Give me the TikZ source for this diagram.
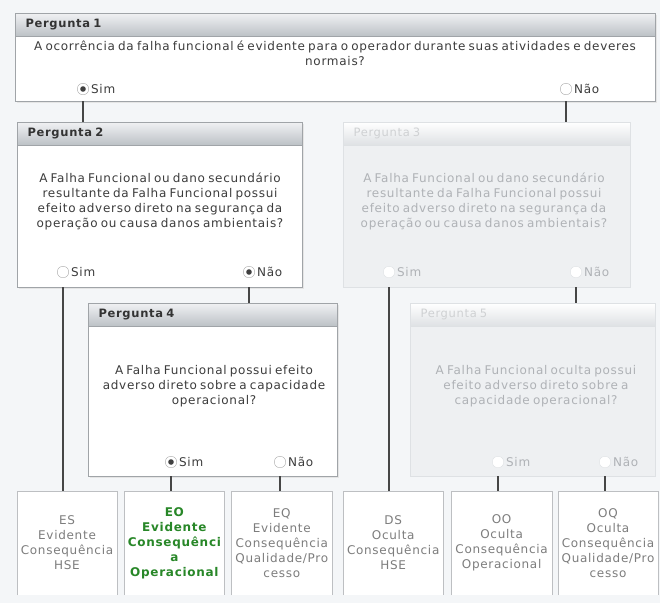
\documentclass[tikz,border=0pt]{standalone}
\usepackage{fontspec}
\setmainfont{DejaVu Sans}[LetterSpace=6, WordSpace=0.7]
\usetikzlibrary{positioning}
\definecolor{bgcol}{RGB}{244,246,248}
\definecolor{boxline}{RGB}{160,164,168}
\definecolor{headtop}{RGB}{240,241,243}
\definecolor{headbot}{RGB}{188,193,198}
\definecolor{txt}{RGB}{60,60,60}
\definecolor{faded}{RGB}{238,240,242}
\definecolor{fadeline}{RGB}{222,225,228}
\definecolor{fadetxt}{RGB}{175,178,182}
\definecolor{wire}{RGB}{70,70,70}
\definecolor{outtxt}{RGB}{125,125,125}
\definecolor{outgreen}{RGB}{40,135,40}

\begin{document}
\begin{tikzpicture}[x=1pt, y=-1pt, every node/.style={font=\fontsize{12}{15}\selectfont, text=txt},
	qbox/.style={draw=boxline, fill=white, anchor=north west, inner sep=0, preaction={fill=black!10, transform canvas={shift={(1.5pt,-1.5pt)}}}},
	fbox/.style={draw=fadeline, fill=faded, anchor=north west, inner sep=0},
	qhead/.style={draw=boxline, top color=headtop, bottom color=headbot, anchor=north west, minimum height=23, inner sep=0},
	fhead/.style={draw=fadeline, top color=white, bottom color=fadeline, anchor=north west, minimum height=23, inner sep=0},
	qtitle/.style={font=\fontsize{11.5}{12}\selectfont\bfseries, text=black!80},
	ftitle/.style={qtitle, font=\fontsize{11.5}{12}\selectfont, text=fadetxt!60!white},
	qtext/.style={align=center},
	ftext/.style={align=center, text=fadetxt},
	radio/.style={circle, draw=gray!65, fill=white, minimum size=11.5, inner sep=0},
	picked/.style={radio, path picture={\fill[black!75] (path picture bounding box.center) circle (2.8pt);}},
	fradio/.style={radio, draw=fadeline},
	rlabel/.style={inner sep=1pt},
	flabel/.style={inner sep=1pt, text=fadetxt},
	wire/.style={draw=wire, line width=1.1pt},
	outbox/.style={fill=white, minimum width=100, minimum height=104, align=center, inner sep=0, text=outtxt},
	outedge/.style={draw=boxline!70}]
	\fill[bgcol] (0,0) rectangle (660,603);
	\node[qbox, minimum width=640, minimum height=88] (p1) at (15,13) {};
	\node[qhead, minimum width=640] (p1h) at (p1.north west) {};
	\node[qtitle, right=7pt of p1h.west] {Pergunta 1};
	\node[qtext] (p1q) at (335,53) {A ocorrência da falha funcional é evidente para o operador durante suas atividades e deveres\\normais?};
	\node[picked] (p1sim) at (83,89) {};
	\node[rlabel, right=1pt of p1sim] {Sim};
	\node[radio] (p1nao) at (566,89) {};
	\node[rlabel, right=1pt of p1nao] {Não};

	\node[qbox, minimum width=285, minimum height=165] (p2) at (17,122) {};
	\node[qhead, minimum width=285] (p2h) at (p2.north west) {};
	\node[qtitle, right=7pt of p2h.west] {Pergunta 2};
	\node[qtext] (p2q) at (160,201) {A Falha Funcional ou dano secundário\\resultante da Falha Funcional possui\\efeito adverso direto na segurança da\\operação ou causa danos ambientais?};
	\node[radio] (p2sim) at (63,272) {};
	\node[rlabel, right=1pt of p2sim] {Sim};
	\node[picked] (p2nao) at (249,272) {};
	\node[rlabel, right=1pt of p2nao] {Não};

	\node[fbox, minimum width=287, minimum height=165] (p3) at (343,122) {};
	\node[fhead, minimum width=287] (p3h) at (p3.north west) {};
	\node[ftitle, right=7pt of p3h.west] {Pergunta 3};
	\node[ftext] (p3q) at (484,201) {A Falha Funcional ou dano secundário\\resultante da Falha Funcional possui\\efeito adverso direto na segurança da\\operação ou causa danos ambientais?};
	\node[fradio] (p3sim) at (389,272) {};
	\node[flabel, right=1pt of p3sim] {Sim};
	\node[fradio] (p3nao) at (576,272) {};
	\node[flabel, right=1pt of p3nao] {Não};

	\node[qbox, minimum width=249, minimum height=173] (p4) at (88,303) {};
	\node[qhead, minimum width=249] (p4h) at (p4.north west) {};
	\node[qtitle, right=7pt of p4h.west] {Pergunta 4};
	\node[qtext] (p4q) at (214,386) {A Falha Funcional possui efeito\\adverso direto sobre a capacidade\\operacional?};
	\node[picked] (p4sim) at (171,462) {};
	\node[rlabel, right=1pt of p4sim] {Sim};
	\node[radio] (p4nao) at (280,462) {};
	\node[rlabel, right=1pt of p4nao] {Não};

	\node[fbox, minimum width=245, minimum height=173] (p5) at (410,303) {};
	\node[fhead, minimum width=245] (p5h) at (p5.north west) {};
	\node[ftitle, right=7pt of p5h.west] {Pergunta 5};
	\node[ftext] (p5q) at (536,386) {A Falha Funcional oculta possui\\efeito adverso direto sobre a\\capacidade operacional?};
	\node[fradio] (p5sim) at (498,462) {};
	\node[flabel, right=1pt of p5sim] {Sim};
	\node[fradio] (p5nao) at (605,462) {};
	\node[flabel, right=1pt of p5nao] {Não};

	\node[outbox] (es) at (67,543) {ES\\Evidente\\Consequência\\HSE};
	\node[outbox, right=7pt of es, text=outgreen, font=\fontsize{12}{15}\selectfont\bfseries] (eo) {EO\\Evidente\\Consequênci\\a\\Operacional};
	\node[outbox, right=7pt of eo] (eq) {EQ\\Evidente\\Consequência\\Qualidade/Pro\\cesso};
	\node[outbox, right=11pt of eq] (ds) {DS\\Oculta\\Consequência\\HSE};
	\node[outbox, right=8pt of ds] (oo) {OO\\Oculta\\Consequência\\Operacional};
	\node[outbox, right=6pt of oo] (oq) {OQ\\Oculta\\Consequência\\Qualidade/Pro\\cesso};
	\foreach \n in {es,eo,eq,ds,oo,oq}
		\draw[outedge] (\n.south west) -- (\n.north west) -- (\n.north east) -- (\n.south east);

	\draw[wire] (p1sim |- p1.south) -- (p1sim |- p2.north);
	\draw[wire] (p1nao |- p1.south) -- (p1nao |- p3.north);
	\draw[wire] (p2sim |- p2.south) -- (p2sim |- es.north);
	\draw[wire] (p2nao |- p2.south) -- (p2nao |- p4.north);
	\draw[wire] (p3sim |- p3.south) -- (p3sim |- ds.north);
	\draw[wire] (p3nao |- p3.south) -- (p3nao |- p5.north);
	\draw[wire] (p4sim |- p4.south) -- (p4sim |- eo.north);
	\draw[wire] (p4nao |- p4.south) -- (p4nao |- eq.north);
	\draw[wire] (p5sim |- p5.south) -- (p5sim |- oo.north);
	\draw[wire] (p5nao |- p5.south) -- (p5nao |- oq.north);
\end{tikzpicture}
\end{document}
